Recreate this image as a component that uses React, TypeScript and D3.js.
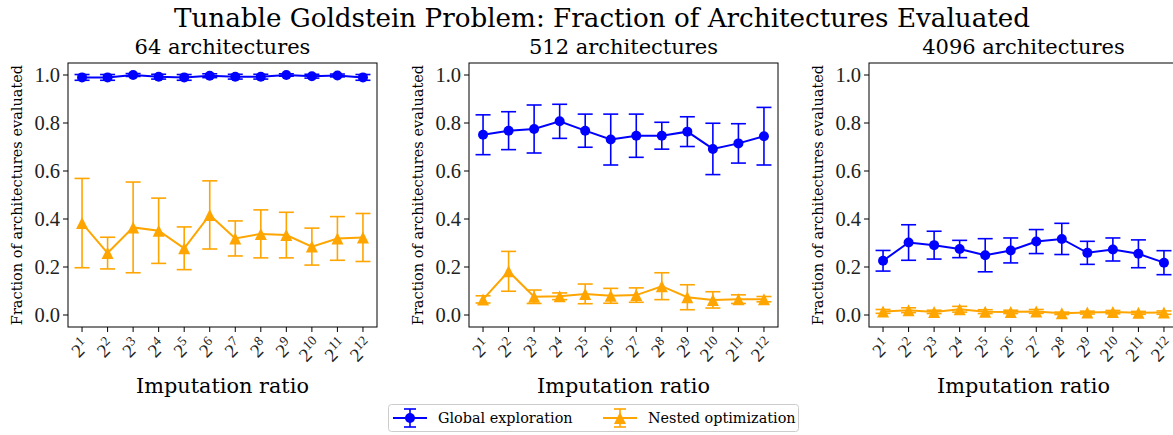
import React from "react";
import * as d3 from "d3";

// imputation ratio exponents (2^1 .. 2^12)
const exponents = [1, 2, 3, 4, 5, 6, 7, 8, 9, 10, 11, 12];
const panelTitles = ["64 architectures", "512 architectures", "4096 architectures"];
const yTicks = [0.0, 0.2, 0.4, 0.6, 0.8, 1.0];
const seriesNames = ["Global exploration", "Nested optimization"];

// 64 architectures
const global64 = [0.99, 0.99, 1.0, 0.993, 0.99, 0.997, 0.993, 0.993, 1.0, 0.995, 0.998, 0.99];
const global64Err = [0.012, 0.012, 0.006, 0.01, 0.012, 0.008, 0.01, 0.01, 0.005, 0.008, 0.006, 0.012];
const nested64 = [0.383, 0.258, 0.365, 0.351, 0.278, 0.417, 0.319, 0.338, 0.333, 0.285, 0.319, 0.323];
const nested64Err = [0.186, 0.066, 0.189, 0.136, 0.089, 0.142, 0.073, 0.1, 0.095, 0.077, 0.091, 0.1];

// 512 architectures
const global512 = [0.751, 0.768, 0.775, 0.807, 0.768, 0.731, 0.747, 0.747, 0.764, 0.692, 0.715, 0.745];
const global512Err = [0.083, 0.079, 0.1, 0.071, 0.069, 0.106, 0.09, 0.056, 0.062, 0.107, 0.082, 0.12];
const nested512 = [0.065, 0.182, 0.076, 0.078, 0.088, 0.08, 0.083, 0.12, 0.074, 0.063, 0.066, 0.066];
const nested512Err = [0.015, 0.083, 0.028, 0.014, 0.041, 0.031, 0.03, 0.056, 0.052, 0.034, 0.018, 0.011];

// 4096 architectures
const global4096 = [0.226, 0.302, 0.291, 0.275, 0.249, 0.269, 0.306, 0.317, 0.259, 0.273, 0.255, 0.218];
const global4096Err = [0.043, 0.074, 0.058, 0.036, 0.069, 0.052, 0.05, 0.065, 0.048, 0.048, 0.058, 0.05];
const nested4096 = [0.015, 0.02, 0.013, 0.024, 0.014, 0.013, 0.015, 0.007, 0.01, 0.012, 0.009, 0.01];
const nested4096Err = [0.008, 0.01, 0.007, 0.012, 0.008, 0.007, 0.008, 0.005, 0.006, 0.007, 0.006, 0.007];

const panels = [
  { title: panelTitles[0], g: global64, gErr: global64Err, n: nested64, nErr: nested64Err },
  { title: panelTitles[1], g: global512, gErr: global512Err, n: nested512, nErr: nested512Err },
  { title: panelTitles[2], g: global4096, gErr: global4096Err, n: nested4096, nErr: nested4096Err },
];

const BLUE = "#0000ff";
const ORANGE = "#ffa500";
const SERIF = "'DejaVu Serif', serif";
const MATH = "'Liberation Serif', serif";

const W = 1173;
const H = 435;
const lefts = [68, 469, 869];
const top = 63;
const pw = 309;
const ph = 264;

const x = d3.scaleLinear().domain([0.45, 12.55]).range([0, pw]);
const y = d3.scaleLinear().domain([-0.05, 1.05]).range([ph, 0]);

const tri = (r: number) => `M0,${-r}L${r},${r}L${-r},${r}Z`;

const Series = ({ vals, errs, color, marker }) => {
  const line = d3
    .line<number>()
    .x((d, i) => x(exponents[i]))
    .y(d => y(d));
  const cap = 7.5;
  return (
    <g>
      <path d={line(vals) as string} fill="none" stroke={color} strokeWidth={2} />
      {vals.map((v, i) => {
        const cx = x(exponents[i]);
        const y0 = y(v - errs[i]);
        const y1 = y(v + errs[i]);
        return (
          <g key={i} stroke={color} strokeWidth={1.6}>
            <line x1={cx} x2={cx} y1={y0} y2={y1} />
            <line x1={cx - cap} x2={cx + cap} y1={y0} y2={y0} />
            <line x1={cx - cap} x2={cx + cap} y1={y1} y2={y1} />
          </g>
        );
      })}
      {vals.map((v, i) =>
        marker === "o" ? (
          <circle key={i} cx={x(exponents[i])} cy={y(v)} r={5} fill={color} />
        ) : (
          <path key={i} d={tri(6)} transform={`translate(${x(exponents[i])},${y(v)})`} fill={color} />
        )
      )}
    </g>
  );
};

const Panel = ({ p, left }) => (
  <g transform={`translate(${left},${top})`}>
    <text x={pw / 2} y={-9} textAnchor="middle" fontFamily={SERIF} fontSize={21}>
      {p.title}
    </text>
    <text
      transform={`translate(-46,${ph / 2}) rotate(-90)`}
      textAnchor="middle"
      fontFamily={SERIF}
      fontSize={14.5}
    >
      Fraction of architectures evaluated
    </text>
    {yTicks.map(t => (
      <g key={t} transform={`translate(0,${y(t)})`}>
        <line x1={-5} x2={0} stroke="#000" strokeWidth={1} />
        <text x={-8} dy="0.35em" textAnchor="end" fontFamily={MATH} fontSize={20.5} fill="#222">
          {t.toFixed(1)}
        </text>
      </g>
    ))}
    {exponents.map(e => (
      <g key={e} transform={`translate(${x(e)},${ph})`}>
        <line y1={0} y2={5} stroke="#000" strokeWidth={1} />
        <text
          transform={`translate(-2,${e >= 10 ? 23 : 21}) rotate(-45)`}
          textAnchor="middle"
          dy="0.35em"
          fontFamily={MATH}
          fontSize={19}
          fill="#222"
        >
          2
          <tspan fontSize={13.5} dy="-0.55em">
            {e}
          </tspan>
        </text>
      </g>
    ))}
    <text x={pw / 2} y={ph + 66} textAnchor="middle" fontFamily={SERIF} fontSize={20.8}>
      Imputation ratio
    </text>
    <Series vals={p.g} errs={p.gErr} color={BLUE} marker="o" />
    <Series vals={p.n} errs={p.nErr} color={ORANGE} marker="^" />
    <rect x={0} y={0} width={pw} height={ph} fill="none" stroke="#000" strokeWidth={1} />
  </g>
);

const LegendItem = ({ xPos, color, marker, label }) => (
  <g transform={`translate(${xPos},418)`}>
    <line x1={0} x2={34} stroke={color} strokeWidth={2} />
    <g stroke={color} strokeWidth={1.6}>
      <line x1={17} x2={17} y1={-9} y2={9} />
      <line x1={11} x2={23} y1={-9} y2={-9} />
      <line x1={11} x2={23} y1={9} y2={9} />
    </g>
    {marker === "o" ? (
      <circle cx={17} cy={0} r={5} fill={color} />
    ) : (
      <path d={tri(6)} transform="translate(17,0)" fill={color} />
    )}
    <text x={45} dy="0.35em" fontFamily={SERIF} fontSize={14.4}>
      {label}
    </text>
  </g>
);

export default function App() {
  return (
    <svg width={W} height={H} style={{ position: "absolute", left: 0, top: 0 }}>
      <rect width={W} height={H} fill="#fff" />
      <text x={602} y={27} textAnchor="middle" fontFamily={SERIF} fontSize={26.2}>
        Tunable Goldstein Problem: Fraction of Architectures Evaluated
      </text>
      {panels.map((p, i) => (
        <Panel key={i} p={p} left={lefts[i]} />
      ))}
      <rect x={388.5} y={404.5} width={410} height={27} rx={3} fill="#fff" stroke="#ccc" />
      <LegendItem xPos={393} color={BLUE} marker="o" label={seriesNames[0]} />
      <LegendItem xPos={603} color={ORANGE} marker="^" label={seriesNames[1]} />
    </svg>
  );
}
